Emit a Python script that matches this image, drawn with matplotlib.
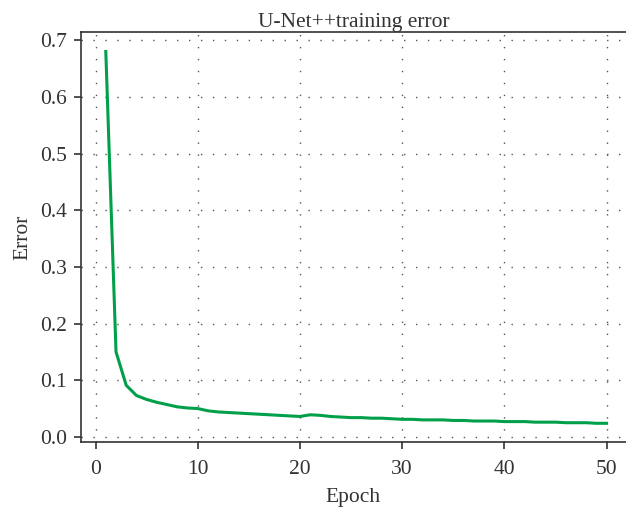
import numpy as np
import matplotlib.pyplot as plt

# U-Net++ training error per epoch
epochs = list(range(1, 51))
error = [0.680, 0.150, 0.091, 0.073, 0.066, 0.061, 0.057, 0.053, 0.051, 0.050,
         0.046, 0.044, 0.043, 0.042, 0.041, 0.040, 0.039, 0.038, 0.037, 0.036,
         0.039, 0.038, 0.036, 0.035, 0.034, 0.034, 0.033, 0.033, 0.032, 0.031,
         0.031, 0.030, 0.030, 0.030, 0.029, 0.029, 0.028, 0.028, 0.028, 0.027,
         0.027, 0.027, 0.026, 0.026, 0.026, 0.025, 0.025, 0.025, 0.024, 0.024]

xticks = [0, 10, 20, 30, 40, 50]
yticks = [0.0, 0.1, 0.2, 0.3, 0.4, 0.5, 0.6, 0.7]

plt.rcParams['font.family'] = ['Liberation Serif', 'DejaVu Serif']
txt = '#333333'

fig = plt.figure(figsize=(6.26, 5.07), dpi=100)
ax = fig.add_axes([0.129, 0.129, 0.871, 0.807])

ax.plot(epochs, error, color='#00a04a', lw=2.2, zorder=3)

ax.set_xlim(-1.45, 51.9)
ax.set_ylim(-0.0083, 0.7136)
ax.set_xticks(xticks)
ax.set_yticks(yticks)
ax.set_yticklabels([f'{v:.1f}' for v in yticks])

ax.grid(True, color='#555555', lw=1.0, linestyle=(0, (1, 7.6)))

for s in ['left', 'bottom', 'top']:
    ax.spines[s].set_color(txt)
    ax.spines[s].set_linewidth(1.2)
ax.spines['right'].set_visible(False)

ax.tick_params(direction='out', length=5, width=1.2, colors=txt,
               labelsize=15.5, pad=5, top=False, right=False)
ax.tick_params(axis='x', pad=8)

ax.set_title('U-Net++training error', fontsize=15.5, color=txt, pad=4)
ax.set_xlabel('Epoch', fontsize=15.5, color=txt, labelpad=7)
ax.set_ylabel('Error', fontsize=15.5, color=txt, labelpad=5)

fig.savefig('out.png', dpi=100)
